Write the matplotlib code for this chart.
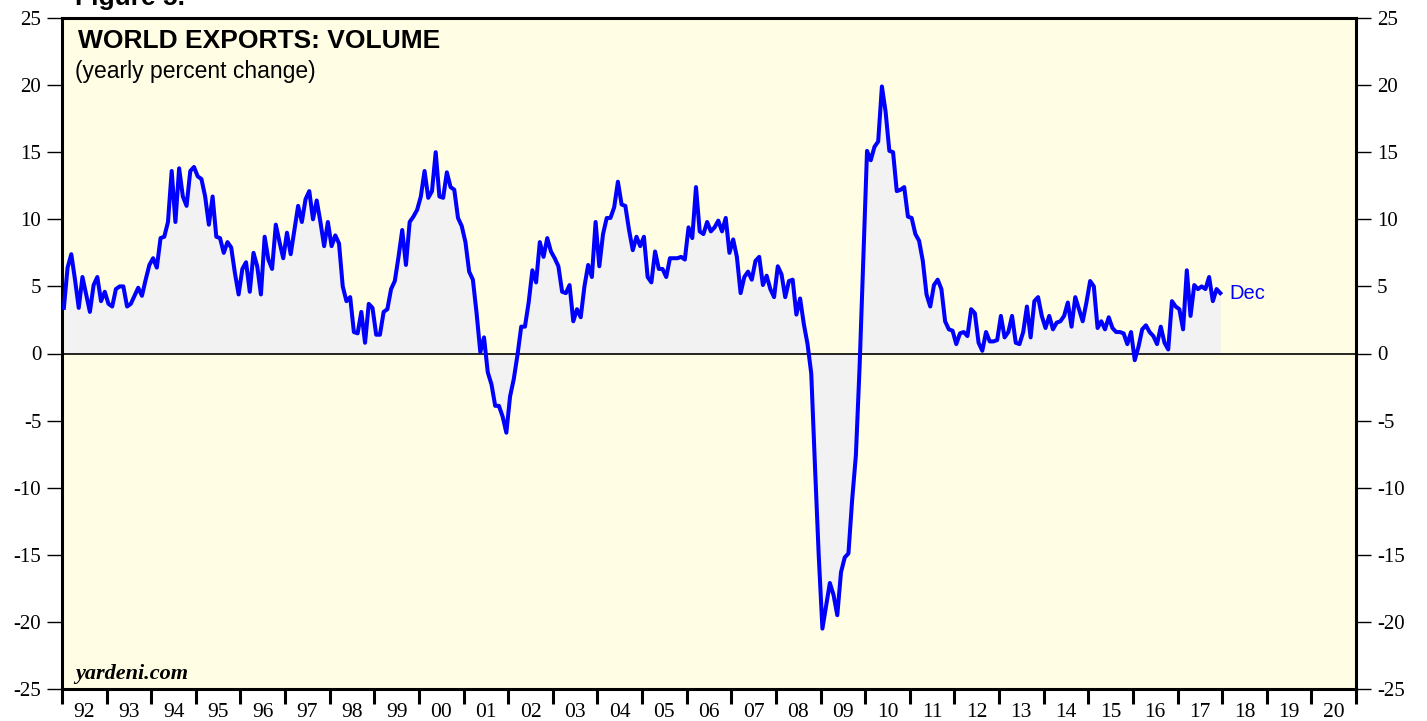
import numpy as np
import matplotlib
matplotlib.use("Agg")
from matplotlib import pyplot as plt
from matplotlib.ticker import FixedLocator, NullFormatter

# monthly yearly % change in world export volume, Jan..Dec
v1992 = [3.4, 6.4, 7.4, 5.5, 3.4, 5.7, 4.4, 3.1, 5.1, 5.7, 3.9, 4.6]
v1993 = [3.7, 3.5, 4.8, 5.0, 5.0, 3.5, 3.7, 4.3, 4.9, 4.3, 5.5, 6.6]
v1994 = [7.1, 6.4, 8.6, 8.7, 9.8, 13.6, 9.8, 13.8, 11.7, 11.0, 13.6, 13.9]
v1995 = [13.2, 13.0, 11.7, 9.6, 11.7, 8.7, 8.6, 7.5, 8.3, 7.9, 6.0, 4.4]
v1996 = [6.3, 6.8, 4.6, 7.5, 6.5, 4.4, 8.7, 7.0, 6.3, 9.6, 8.3, 7.1]
v1997 = [9.0, 7.4, 9.2, 11.0, 9.8, 11.5, 12.1, 10.0, 11.4, 9.8, 8.0, 9.8]
v1998 = [8.0, 8.8, 8.2, 5.0, 3.9, 4.2, 1.6, 1.5, 3.1, 0.8, 3.7, 3.4]
v1999 = [1.4, 1.4, 3.1, 3.3, 4.8, 5.4, 7.2, 9.2, 6.6, 9.8, 10.2, 10.7]
v2000 = [11.7, 13.6, 11.6, 12.1, 15.0, 11.7, 11.6, 13.5, 12.4, 12.2, 10.1, 9.5]
v2001 = [8.3, 6.1, 5.5, 3.0, 0.1, 1.2, -1.4, -2.3, -3.9, -3.9, -4.7, -5.9]
v2002 = [-3.2, -1.9, -0.1, 2.0, 2.0, 3.8, 6.2, 5.3, 8.3, 7.2, 8.6, 7.6]
v2003 = [7.1, 6.5, 4.6, 4.5, 5.1, 2.4, 3.3, 2.7, 5.0, 6.6, 5.7, 9.8]
v2004 = [6.5, 8.9, 10.1, 10.1, 10.9, 12.8, 11.1, 11.0, 9.2, 7.7, 8.7, 8.0]
v2005 = [8.7, 5.7, 5.3, 7.6, 6.3, 6.3, 5.7, 7.1, 7.1, 7.1, 7.2, 7.0]
v2006 = [9.4, 8.6, 12.4, 9.1, 8.9, 9.8, 9.1, 9.4, 9.9, 9.1, 10.1, 7.5]
v2007 = [8.5, 7.2, 4.5, 5.7, 6.1, 5.5, 6.9, 7.2, 5.1, 5.8, 4.8, 4.2]
v2008 = [6.5, 5.9, 4.2, 5.4, 5.5, 2.9, 4.1, 2.2, 0.7, -1.5, -8.4, -15.0]
v2009 = [-20.5, -18.8, -17.1, -18.0, -19.5, -16.3, -15.2, -14.9, -10.9, -7.6, -1.0, 7.0]
v2010 = [15.1, 14.4, 15.4, 15.8, 19.9, 18.0, 15.1, 15.0, 12.1, 12.2, 12.4, 10.2]
v2011 = [10.1, 8.9, 8.4, 6.9, 4.4, 3.5, 5.1, 5.5, 4.8, 2.4, 1.8, 1.7]
v2012 = [0.7, 1.5, 1.6, 1.3, 3.3, 3.0, 0.8, 0.2, 1.6, 0.9, 0.9, 1.0]
v2013 = [2.8, 1.2, 1.6, 2.8, 0.8, 0.7, 1.6, 3.5, 1.2, 3.9, 4.2, 2.8]
v2014 = [1.9, 2.8, 1.8, 2.3, 2.4, 2.8, 3.8, 2.0, 4.2, 3.3, 2.4, 3.8]
v2015 = [5.4, 5.0, 1.9, 2.4, 1.8, 2.7, 1.9, 1.6, 1.6, 1.5, 0.7, 1.6]
v2016 = [-0.5, 0.5, 1.8, 2.1, 1.6, 1.3, 0.7, 2.0, 0.8, 0.3, 3.9, 3.5]
v2017 = [3.3, 1.8, 6.2, 2.8, 5.1, 4.8, 5.0, 4.8, 5.7, 3.9, 4.8, 4.5]

first_year = 1992
years_axis = list(range(1992, 2022))
year_labels = ["92", "93", "94", "95", "96", "97", "98", "99", "00", "01", "02",
               "03", "04", "05", "06", "07", "08", "09", "10", "11", "12", "13",
               "14", "15", "16", "17", "18", "19", "20"]
y_ticks = [-25, -20, -15, -10, -5, 0, 5, 10, 15, 20, 25]

values = np.array(v1992 + v1993 + v1994 + v1995 + v1996 + v1997 + v1998 + v1999
                  + v2000 + v2001 + v2002 + v2003 + v2004 + v2005 + v2006 + v2007
                  + v2008 + v2009 + v2010 + v2011 + v2012 + v2013 + v2014 + v2015
                  + v2016 + v2017)
t = first_year + (np.arange(len(values)) + 0.5) / 12.0

serif = "Liberation Serif"
sans = "Liberation Sans"

fig = plt.figure(figsize=(14.27, 7.21), dpi=100)
fig.patch.set_facecolor("white")
ax = fig.add_axes([62 / 1427, 1 - 689 / 721, (1356 - 62) / 1427, (689 - 18) / 721])
ax.set_facecolor("#FFFEE4")

ax.fill_between(t, values, 0, color="#F2F2F2", linewidth=0, zorder=1)
ax.axhline(0, color="black", linewidth=1.2, zorder=2)
ax.plot(t, values, color="#0000FF", linewidth=2.9, solid_joinstyle="round", zorder=3)
ax.text(t[-1] + 0.2, values[-1], "Dec", color="#0000FF", fontsize=14.5,
        family=sans, va="center", ha="left", zorder=4)

ax.set_xlim(years_axis[0], years_axis[-1])
ax.set_ylim(-25, 25)

for side in ["left", "right", "top", "bottom"]:
    ax.spines[side].set_linewidth(2.2)
    ax.spines[side].set_color("black")

ax.xaxis.set_major_locator(FixedLocator(years_axis))
ax.xaxis.set_major_formatter(NullFormatter())
ax.xaxis.set_minor_locator(FixedLocator([y + 0.5 for y in years_axis[:-1]]))
ax.set_xticklabels(year_labels, minor=True)
ax.tick_params(axis="x", which="major", direction="out", length=11, width=2.2)
ax.tick_params(axis="x", which="minor", length=0, pad=10, labelsize=15.5)

ax.set_yticks(y_ticks)
ax.set_yticklabels([str(v) for v in y_ticks])
ax.tick_params(axis="y", which="major", direction="out", length=11, width=1.0,
               labelsize=15, pad=4, right=True, labelright=True)

for lab in ax.get_xticklabels(minor=True) + ax.get_yticklabels():
    lab.set_family(serif)

ax.text(0.012, 0.984, "WORLD EXPORTS: VOLUME", transform=ax.transAxes,
        fontsize=19, fontweight="bold", family=sans, va="top", ha="left")
ax.text(0.010, 0.938, "(yearly percent change)", transform=ax.transAxes,
        fontsize=16.5, family=sans, va="top", ha="left")
ax.text(0.010, 0.008, "yardeni.com", transform=ax.transAxes, fontsize=16,
        family=serif, style="italic", fontweight="bold", va="bottom", ha="left")
# the reference page cuts this heading off at the top edge
fig.text(75 / 1427, 1 - 5 / 721, "Figure 5.", fontsize=19, fontweight="bold",
         family=sans, va="baseline", ha="left")

fig.savefig("out.png", dpi=100)
